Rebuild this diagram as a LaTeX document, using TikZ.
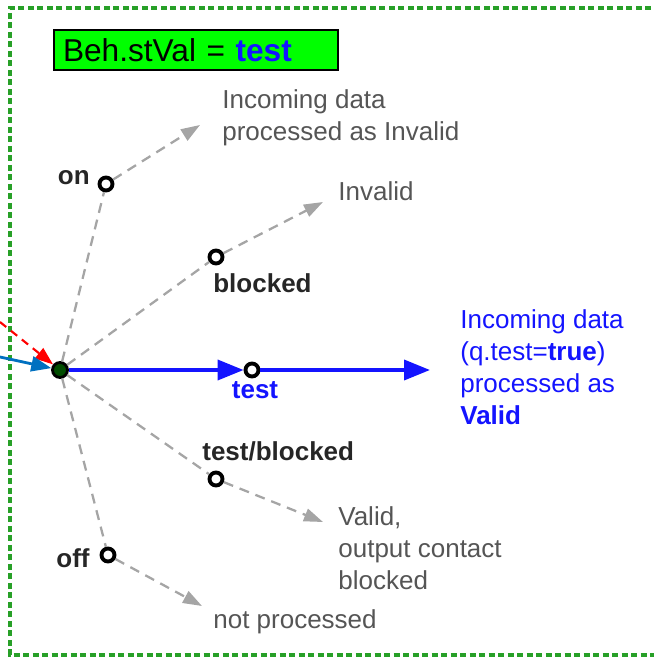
\documentclass[tikz,border=0pt]{standalone}
\usepackage{fontspec}
\setmainfont{Liberation Sans}
\usetikzlibrary{arrows.meta}
\definecolor{framegreen}{RGB}{40,160,40}
\definecolor{boxgreen}{RGB}{0,255,0}
\definecolor{valblue}{RGB}{20,20,255}
\definecolor{inblue}{RGB}{0,112,192}
\definecolor{dashgray}{RGB}{165,165,165}
\definecolor{txtgray}{RGB}{85,85,85}
\tikzset{
	mode/.style={circle,draw=black,fill=white,line width=2.2pt,inner sep=0pt,minimum size=0.26cm},
	branch/.style={draw=dashgray,line width=1.3pt,dash pattern=on 0.2cm off 0.14cm,-{Triangle[length=0.38cm,width=0.26cm]}},
	validflow/.style={draw=valblue,line width=2.1pt,-{Triangle[length=0.52cm,width=0.4cm]}},
	lbl/.style={font=\fontsize{14.8pt}{18.2pt}\selectfont\bfseries,inner sep=0pt,text=black!85},
	note/.style={font=\fontsize{14.8pt}{18.2pt}\selectfont,inner sep=0pt,align=left,text=txtgray},
	titlebox/.style={draw=black,line width=1.2pt,fill=boxgreen,text width=5.32cm,inner xsep=0.18cm,minimum height=0.8cm,font=\fontsize{18pt}{20pt}\selectfont}
}

\begin{document}
\begin{tikzpicture}[x=0.02cm,y=-0.02cm]
		%%%%% START %%%%%
		\useasboundingbox (0,0) rectangle (653,658);
		\draw[framegreen,line width=2pt,dash pattern=on 0.12cm off 0.07cm] (670,8) -- (10,8) -- (10,655) -- (670,655);
		
		\node[titlebox,anchor=west] (title) at (53,50) {Beh.stVal = \textcolor{valblue}{\bfseries test}};
		
		% switch positions
		\node[circle,draw=black,fill=black!70!green,line width=1.6pt,inner sep=0pt,minimum size=0.3cm] (hub) at (60,370) {};
		\node[mode] (on) at (106,184) {};
		\node[mode] (blocked) at (216,257) {};
		\node[mode] (test) at (252,370) {};
		\node[mode] (testblocked) at (216,479) {};
		\node[mode] (off) at (108,555) {};
		
		\node[lbl,anchor=base east] (onlbl) at (90,185) {on};
		\node[lbl,anchor=base west] (blockedlbl) at (213,292) {blocked};
		\node[lbl,anchor=base,text=valblue] (testlbl) at (255,398) {test};
		\node[lbl,anchor=base west] (testblockedlbl) at (202,460) {test/blocked};
		\node[lbl,anchor=base east] (offlbl) at (90,567) {off};
		
		% arrow ends
		\coordinate (onend) at (200,125);
		\coordinate (blockedend) at (323,202);
		\coordinate (testend) at (430,370);
		\coordinate (testblockedend) at (323,522);
		\coordinate (offend) at (202,606);
		\coordinate (redin) at (0,322);
		\coordinate (bluein) at (0,357);
		
		\draw[branch] (hub) -- (on) -- (onend);
		\draw[branch] (hub) -- (blocked) -- (blockedend);
		\draw[branch] (hub) -- (testblocked) -- (testblockedend);
		\draw[branch] (hub) -- (off) -- (offend);
		\draw[validflow] (hub) -- (test);
		\draw[validflow] (test) -- (testend);
		
		\draw[red,line width=1.2pt,dash pattern=on 0.16cm off 0.12cm,-{Triangle[length=0.36cm,width=0.26cm]}] (redin) -- (hub);
		\draw[inblue,line width=1.6pt,-{Triangle[length=0.4cm,width=0.3cm]}] (bluein) -- (hub);
		
		% results
		\node[note,anchor=north west] (invalidin) at (222,89) {Incoming data\\processed as Invalid};
		\node[note,anchor=base west] (invalid) at (338,201) {Invalid};
		\node[note,anchor=north west,text=valblue] (validnote) at (460,309) {Incoming data\\(q.test=\textbf{true})\\processed as\\\textbf{Valid}};
		\node[note,anchor=north west] (blockednote) at (338,506) {Valid,\\output contact\\blocked};
		\node[note,anchor=base west] (offnote) at (213,628) {not processed};
		%%%%% END %%%%%
	\end{tikzpicture}
\end{document}
